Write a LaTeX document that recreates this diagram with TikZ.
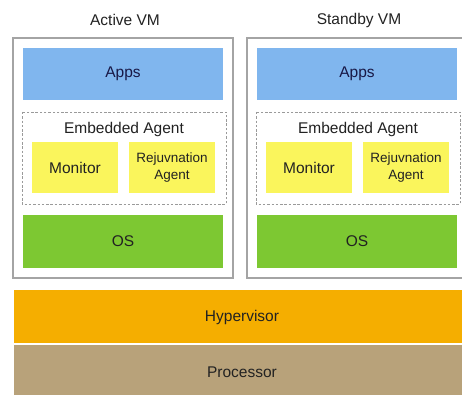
\documentclass[tikz,border=0pt]{standalone}
\usepackage{fontspec}
\setmainfont{Liberation Sans}
\definecolor{appsblue}{HTML}{80B6EE}
\definecolor{osgreen}{HTML}{7DC832}
\definecolor{agentyellow}{HTML}{FAF55C}
\definecolor{hyporange}{HTML}{F5AE00}
\definecolor{proctan}{HTML}{B8A27A}
\definecolor{vmgray}{HTML}{A4A4A4}
\definecolor{dashgray}{HTML}{9A9A9A}
\definecolor{txt}{HTML}{222222}
\tikzset{
  lbl/.style={text=txt, font=\fontsize{15.5}{18}\selectfont, inner sep=0pt},
  block/.style={anchor=north west, inner sep=0pt, outer sep=0pt, draw=none, text=txt,
                font=\fontsize{15.5}{18}\selectfont, align=center},
  vmbox/.style={draw=vmgray, line width=1.3pt, fill=white},
  agentbox/.style={draw=dashgray, line width=0.8pt, dash pattern=on 2.5pt off 1.8pt},
}
\begin{document}
\begin{tikzpicture}[x=1pt,y=-1pt]
\useasboundingbox (0,0) rectangle (462,395);
\clip (0,0) rectangle (462,395);
\fill[white] (0,0) rectangle (462,395);
\foreach \n/\dx/\lab in {A/0/Active VM, B/234/Standby VM}{
  \begin{scope}[xshift=\dx]
    \node[lbl] (title\n) at (125,20) {\lab};
    \draw[vmbox] (13,38) rectangle (233,278);
    \node[block, fill=appsblue, minimum width=200pt, minimum height=52pt, text=txt!80!blue!90!black] (apps\n) at (23,48) {Apps};
    \draw[agentbox] (22,112) rectangle (226,204);
    \node[lbl] (emb\n) at (124,129) {Embedded Agent};
    \node[block, fill=agentyellow, minimum width=86pt, minimum height=51pt] (mon\n) at (32,142) {Monitor};
    \node[block, fill=agentyellow, minimum width=86pt, minimum height=51pt,
          font=\fontsize{13.5}{16.5}\selectfont] (rej\n) at (129,142) {Rejuvnation\\Agent};
    \node[block, fill=osgreen, minimum width=200pt, minimum height=53pt] (os\n) at (23,215) {OS};
  \end{scope}
}
\node[block, fill=hyporange, minimum width=460pt, minimum height=53pt] (hyp) at (14,290) {};
\node[lbl] (hyptext) at (242,317) {Hypervisor};
\node[block, fill=proctan, minimum width=460pt, minimum height=55pt] (proc) at (14,345) {};
\node[lbl] (proctext) at (242,372) {Processor};
\end{tikzpicture}
\end{document}
